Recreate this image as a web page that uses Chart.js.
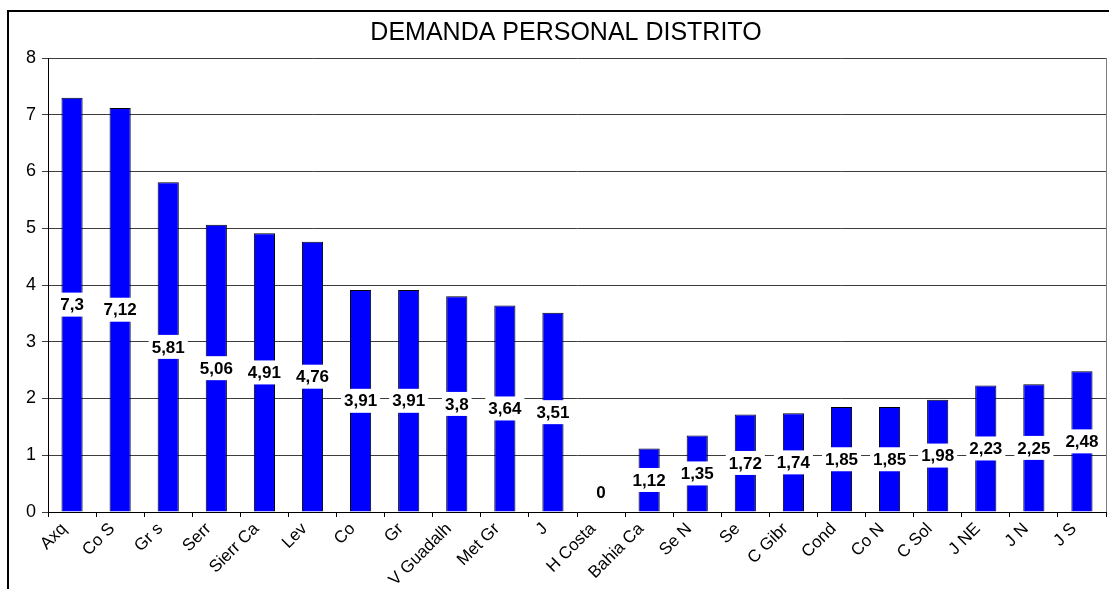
<!DOCTYPE html>
<html>
<head>
<meta charset="utf-8">
<title>Demanda personal distrito</title>
<script src="https://cdn.jsdelivr.net/npm/chart.js@4/dist/chart.umd.min.js"></script>
<style>
  html, body { margin: 0; padding: 0; background: #fff; }
  #wrap { width: 1109px; height: 589px; position: relative; }
</style>
</head>
<body>
<div id="wrap"><canvas id="c"></canvas></div>
<script>
// Districts and demand values
var districts = ['Axq', 'Co S', 'Gr s', 'Serr', 'Sierr Ca', 'Lev', 'Co', 'Gr', 'V Guadalh', 'Met Gr', 'J',
  'H Costa', 'Bahia Ca', 'Se N', 'Se', 'C Gibr', 'Cond', 'Co N', 'C Sol', 'J NE', 'J N', 'J S'];
var demand = [7.3, 7.12, 5.81, 5.06, 4.91, 4.76, 3.91, 3.91, 3.8, 3.64, 3.51,
  0, 1.12, 1.35, 1.72, 1.74, 1.85, 1.85, 1.98, 2.23, 2.25, 2.48];
var yTicks = [0, 1, 2, 3, 4, 5, 6, 7, 8];
var chartTitle = 'DEMANDA PERSONAL DISTRITO';

var FONT = '"Liberation Sans", Arial, sans-serif';

// Outer frame + plot-area right edge + title
var framePlugin = {
  id: 'frame',
  beforeDraw: function (chart) {
    var ctx = chart.ctx;
    ctx.save();
    ctx.fillStyle = '#fff';
    ctx.fillRect(0, 0, chart.width, chart.height);
    ctx.strokeStyle = '#000';
    ctx.lineWidth = 2;
    ctx.strokeRect(8, 11, chart.width + 20, chart.height + 20);
    ctx.restore();
  },
  afterDraw: function (chart) {
    var a = chart.chartArea, ctx = chart.ctx;
    ctx.save();
    ctx.strokeStyle = '#808080';
    ctx.lineWidth = 1;
    ctx.beginPath();
    ctx.moveTo(Math.round(a.right) + 0.5, a.top);
    ctx.lineTo(Math.round(a.right) + 0.5, a.bottom);
    ctx.stroke();
    ctx.fillStyle = '#000';
    ctx.font = '25px ' + FONT;
    ctx.textAlign = 'center';
    ctx.textBaseline = 'middle';
    ctx.fillText(chartTitle, 566, 33);
    ctx.restore();
  }
};

// Value labels in white boxes at the middle of each bar
var valueLabels = {
  id: 'valueLabels',
  afterDatasetsDraw: function (chart) {
    var ctx = chart.ctx;
    var meta = chart.getDatasetMeta(0);
    ctx.save();
    ctx.font = 'bold 17px ' + FONT;
    ctx.textAlign = 'center';
    ctx.textBaseline = 'middle';
    meta.data.forEach(function (bar, i) {
      var txt = String(demand[i]).replace('.', ',');
      var y = (bar.y + bar.base) / 2;
      if (bar.base - y < 20) y = bar.base - 20;
      var w = ctx.measureText(txt).width + 6;
      var h = 24;
      ctx.fillStyle = '#fff';
      ctx.fillRect(bar.x - w / 2, y - h / 2, w, h);
      ctx.fillStyle = '#000';
      ctx.fillText(txt, bar.x, y + 1);
    });
    ctx.restore();
  }
};

new Chart(document.getElementById('c'), {
  type: 'bar',
  data: {
    labels: districts,
    datasets: [{
      label: 'Demanda',
      data: demand,
      backgroundColor: '#0000ff',
      borderColor: '#000',
      borderWidth: 1,
      barPercentage: 0.44,
      categoryPercentage: 1
    }]
  },
  options: {
    responsive: true,
    maintainAspectRatio: false,
    animation: false,
    layout: { padding: { top: 58, right: 3, left: 0, bottom: 0 } },
    plugins: {
      legend: { display: false },
      tooltip: { enabled: false },
      title: { display: false }
    },
    scales: {
      x: {
        grid: { drawOnChartArea: false, drawTicks: true, tickLength: 5, offset: true, color: '#000' },
        border: { color: '#000', width: 1 },
        ticks: {
          autoSkip: false, maxRotation: 45, minRotation: 45, padding: 2, labelOffset: -8,
          color: '#000', font: { family: FONT, size: 17 }
        },
        afterFit: function (s) { s.height = 77; }
      },
      y: {
        min: 0, max: 8,
        afterBuildTicks: function (s) { s.ticks = yTicks.map(function (v) { return { value: v }; }); },
        grid: { color: '#3c3c3c', tickLength: 6 },
        border: { color: '#000', width: 1 },
        ticks: { padding: 6, color: '#000', font: { family: FONT, size: 18 } },
        afterFit: function (s) { s.width = 48; }
      }
    }
  },
  plugins: [framePlugin, valueLabels]
});
</script>
</body>
</html>
